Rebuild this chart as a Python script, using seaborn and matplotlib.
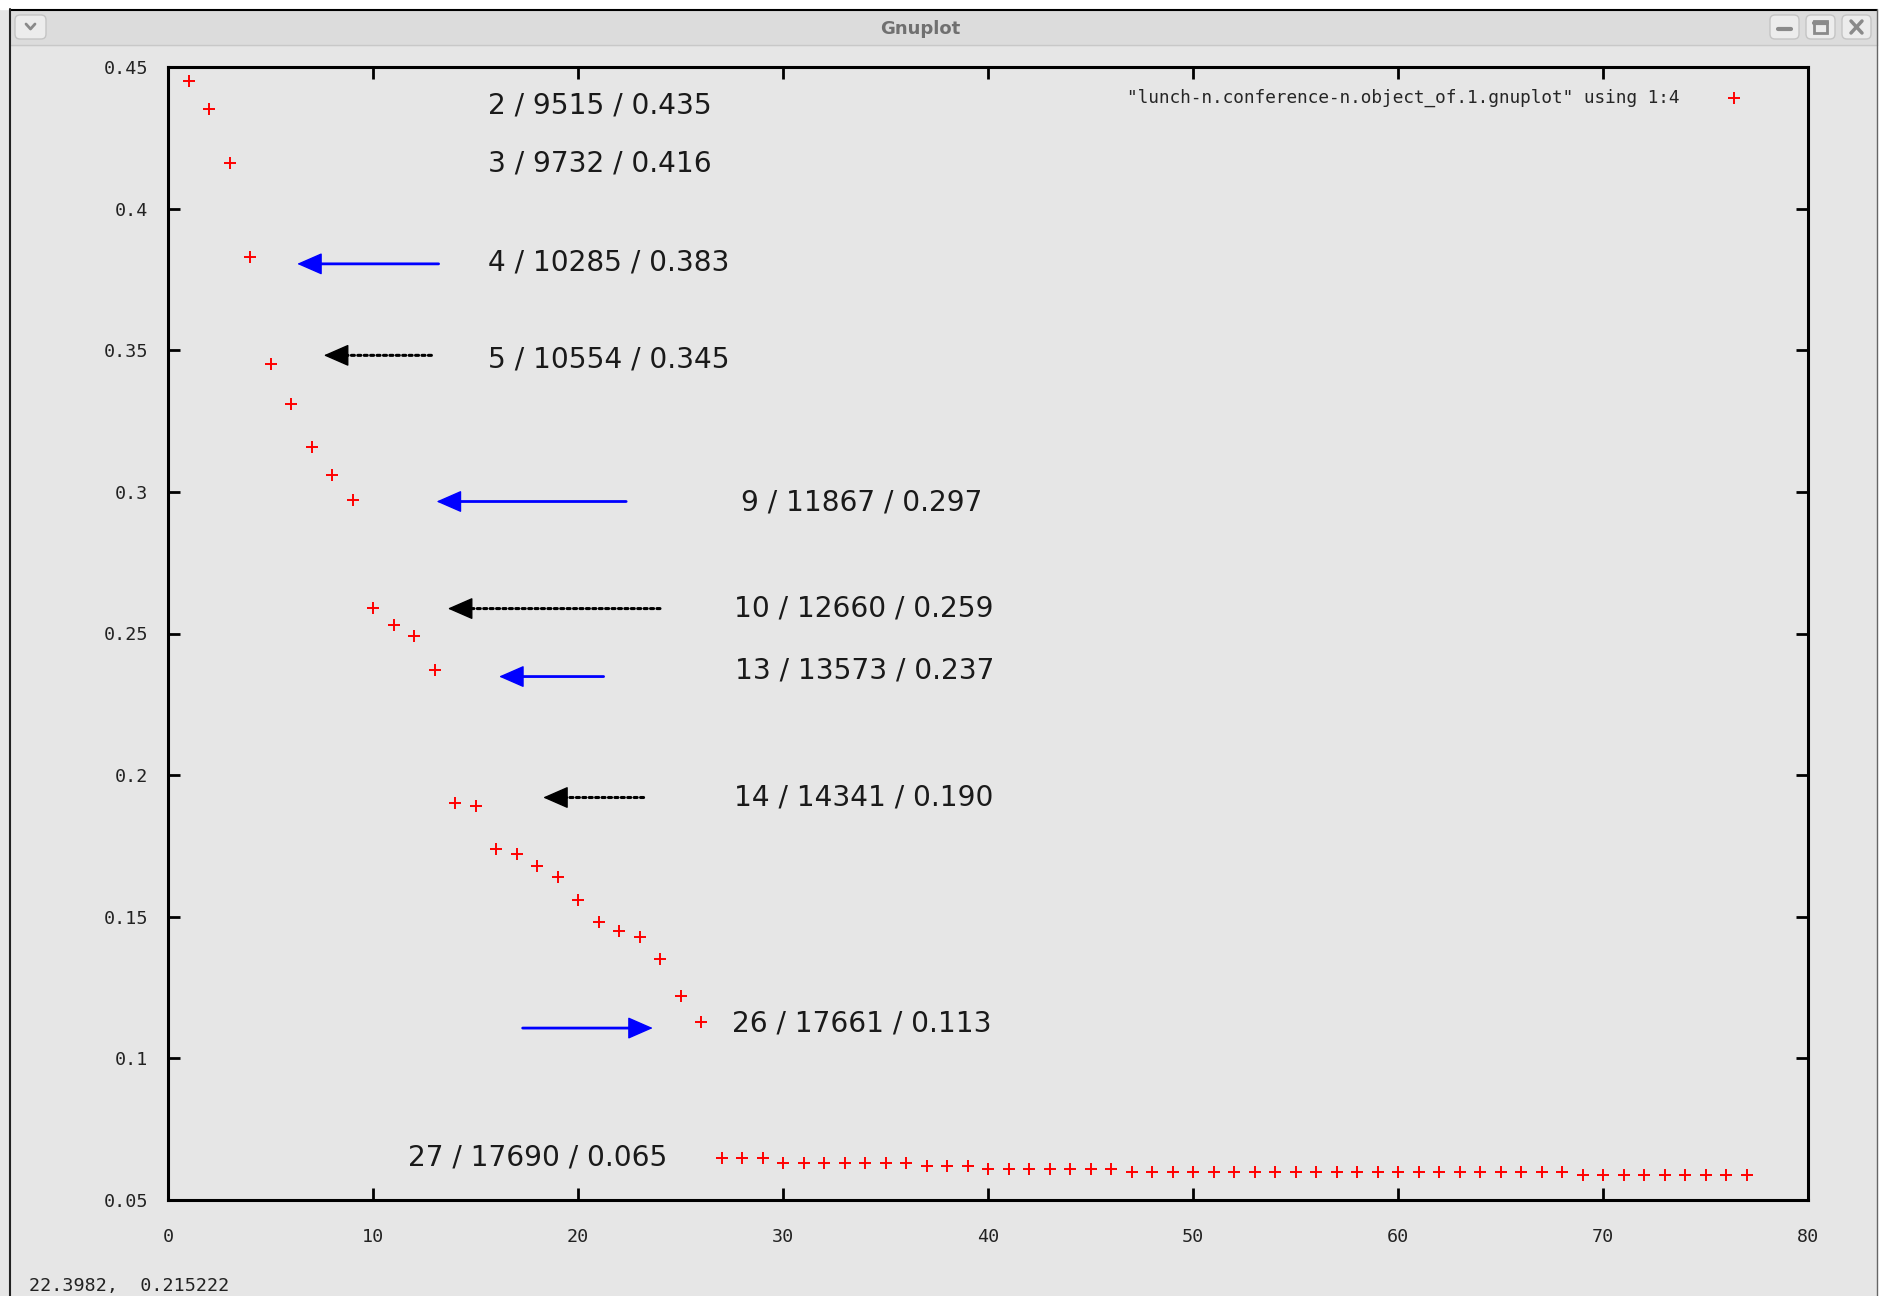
import numpy as np
import matplotlib
matplotlib.use('Agg')
import matplotlib.pyplot as plt
from matplotlib.patches import Rectangle, FancyBboxPatch
import seaborn as sns

# data: column 1 (n) vs column 4 (ratio)
n = np.arange(1, 78)
ratio = [0.445, 0.435, 0.416, 0.383, 0.345, 0.331, 0.316, 0.306, 0.297, 0.259,
         0.253, 0.249, 0.237, 0.190, 0.189, 0.174, 0.172, 0.168, 0.164, 0.156,
         0.148, 0.145, 0.143, 0.135, 0.122, 0.113, 0.065, 0.065, 0.065, 0.063,
         0.063, 0.063, 0.063, 0.063, 0.063, 0.063, 0.062, 0.062, 0.062, 0.061,
         0.061, 0.061, 0.061, 0.061, 0.061, 0.061, 0.060, 0.060, 0.060, 0.060,
         0.060, 0.060, 0.060, 0.060, 0.060, 0.060, 0.060, 0.060, 0.060, 0.060,
         0.060, 0.060, 0.060, 0.060, 0.060, 0.060, 0.060, 0.060, 0.059, 0.059,
         0.059, 0.059, 0.059, 0.059, 0.059, 0.059, 0.059]
series_name = '"lunch-n.conference-n.object_of.1.gnuplot" using 1:4'

# labels written on the plot
labels = ['2 / 9515 / 0.435', '3 / 9732 / 0.416', '4 / 10285 / 0.383',
          '5 / 10554 / 0.345', '9 / 11867 / 0.297', '10 / 12660 / 0.259',
          '13 / 13573 / 0.237', '14 / 14341 / 0.190', '26 / 17661 / 0.113',
          '27 / 17690 / 0.065']
label_x = [15.6, 15.6, 15.6, 15.6, 27.95, 27.6, 27.65, 27.6, 27.5, 11.7]
label_y = [0.4365, 0.4161, 0.3809, 0.3466, 0.2961, 0.2588, 0.2371, 0.1922, 0.1124, 0.0649]

# arrows: tail x, head x, y, colour, solid/dotted
arrow_tail = [13.2, 12.85, 22.35, 24.0, 21.25, 23.2, 17.3]
arrow_head = [6.3, 7.6, 13.1, 13.65, 16.15, 18.3, 23.65]
arrow_y = [0.3805, 0.3482, 0.2966, 0.2588, 0.2348, 0.1921, 0.1107]
arrow_col = ['#0000ff', 'black', '#0000ff', 'black', '#0000ff', 'black', '#0000ff']
arrow_dotted = [False, True, False, True, False, True, False]

sns.set_theme(style='ticks')
plt.rcParams['font.family'] = ['DejaVu Sans']
bg = '#e6e6e6'
mono = 'DejaVu Sans Mono'

W, H = 1884, 1296
fig = plt.figure(figsize=(W / 100, H / 100), dpi=100, facecolor=bg)

# window chrome, drawn in pixel coordinates
win = fig.add_axes([0, 0, 1, 1])
win.set_xlim(0, W)
win.set_ylim(H, 0)
win.axis('off')
win.add_patch(Rectangle((0, 0), W, 9, color='white'))
win.add_patch(Rectangle((1878, 0), 6, H, color='white'))
win.add_patch(Rectangle((10, 10), 1867, 35, color='#dcdcdc'))
win.plot([10, 1877], [45, 45], color='#c8c8c8', lw=1)
win.plot([10, 1877], [9.5, 9.5], color='black', lw=1.5)
win.plot([10, 10], [9, H], color='#222222', lw=1.5)
win.plot([1877, 1877], [9, H], color='#666666', lw=1)
win.text(920, 29, 'Gnuplot', color='#707070', fontsize=13, fontweight='bold',
         ha='center', va='center')
for x0, x1 in [(15, 46), (1770, 1799), (1806, 1835), (1842, 1871)]:
    win.add_patch(FancyBboxPatch((x0, 15), x1 - x0, 24, boxstyle='round,pad=0,rounding_size=5',
                                 fc='#ececec', ec='#c4c4c4', lw=1))
win.plot([26, 30.5, 35], [24, 29, 24], color='#8a8a8a', lw=2)
win.plot([1778, 1791], [29, 29], color='#8a8a8a', lw=3)
win.add_patch(Rectangle((1814, 21), 13, 12, fc='none', ec='#8a8a8a', lw=2))
win.plot([1814, 1827], [23, 23], color='#8a8a8a', lw=3)
win.plot([1851, 1862], [21, 33], color='#8a8a8a', lw=2.5)
win.plot([1851, 1862], [33, 21], color='#8a8a8a', lw=2.5)
win.text(29, 1286, '22.3982,  0.215222', family=mono, fontsize=13.2, color='#222222',
         ha='left', va='center')

# the plot itself
ax = fig.add_axes([168 / W, 1 - 1200 / H, 1640 / W, 1133 / H])
ax.set_facecolor(bg)
sns.scatterplot(x=n, y=ratio, marker='+', color='red', s=85, linewidth=1.4,
                label=series_name, ax=ax)
ax.set_xlim(0, 80)
ax.set_ylim(0.05, 0.45)
ax.set_xticks(range(0, 81, 10))
ax.set_yticks([0.05, 0.1, 0.15, 0.2, 0.25, 0.3, 0.35, 0.4, 0.45])
ax.set_yticklabels(['0.05', '0.1', '0.15', '0.2', '0.25', '0.3', '0.35', '0.4', '0.45'])
for s in ax.spines.values():
    s.set_linewidth(2.2)
    s.set_color('black')
ax.tick_params(direction='in', length=8.5, width=2, top=True, right=True,
               labelsize=13.2, colors='black')
ax.tick_params(axis='y', pad=14)
ax.tick_params(axis='x', pad=20)
for t in ax.get_xticklabels() + ax.get_yticklabels():
    t.set_family(mono)
    t.set_color('#222222')
ax.set_xlabel('')
ax.set_ylabel('')

leg = ax.legend(loc='upper right', bbox_to_anchor=(0.966, 0.981), markerfirst=False,
                frameon=False, borderaxespad=0, borderpad=0, handletextpad=2.1,
                prop={'family': mono, 'size': 12.8})

for txt, lx, ly in zip(labels, label_x, label_y):
    ax.text(lx, ly, txt, fontsize=20.2, color='#1a1a1a', ha='left', va='center')

head_len = 0.75  # in x data units, about the size of gnuplot's arrow head
for xt, xh, y, c, dotted in zip(arrow_tail, arrow_head, arrow_y, arrow_col, arrow_dotted):
    direction = 1 if xt > xh else -1
    # shaft
    ax.annotate('', xy=(xh + direction * head_len * 0.8, y), xytext=(xt, y),
                arrowprops=dict(arrowstyle='-', color=c,
                                lw=2.2 if dotted else 2,
                                linestyle=(0, (1, 1.1)) if dotted else '-',
                                shrinkA=0, shrinkB=0))
    # head
    ax.annotate('', xy=(xh, y), xytext=(xh + direction * head_len, y),
                arrowprops=dict(arrowstyle='-|>,head_length=0.8,head_width=0.35',
                                color=c, lw=1, shrinkA=0, shrinkB=0, mutation_scale=20))

fig.savefig('out.png', dpi=100, facecolor=bg)
